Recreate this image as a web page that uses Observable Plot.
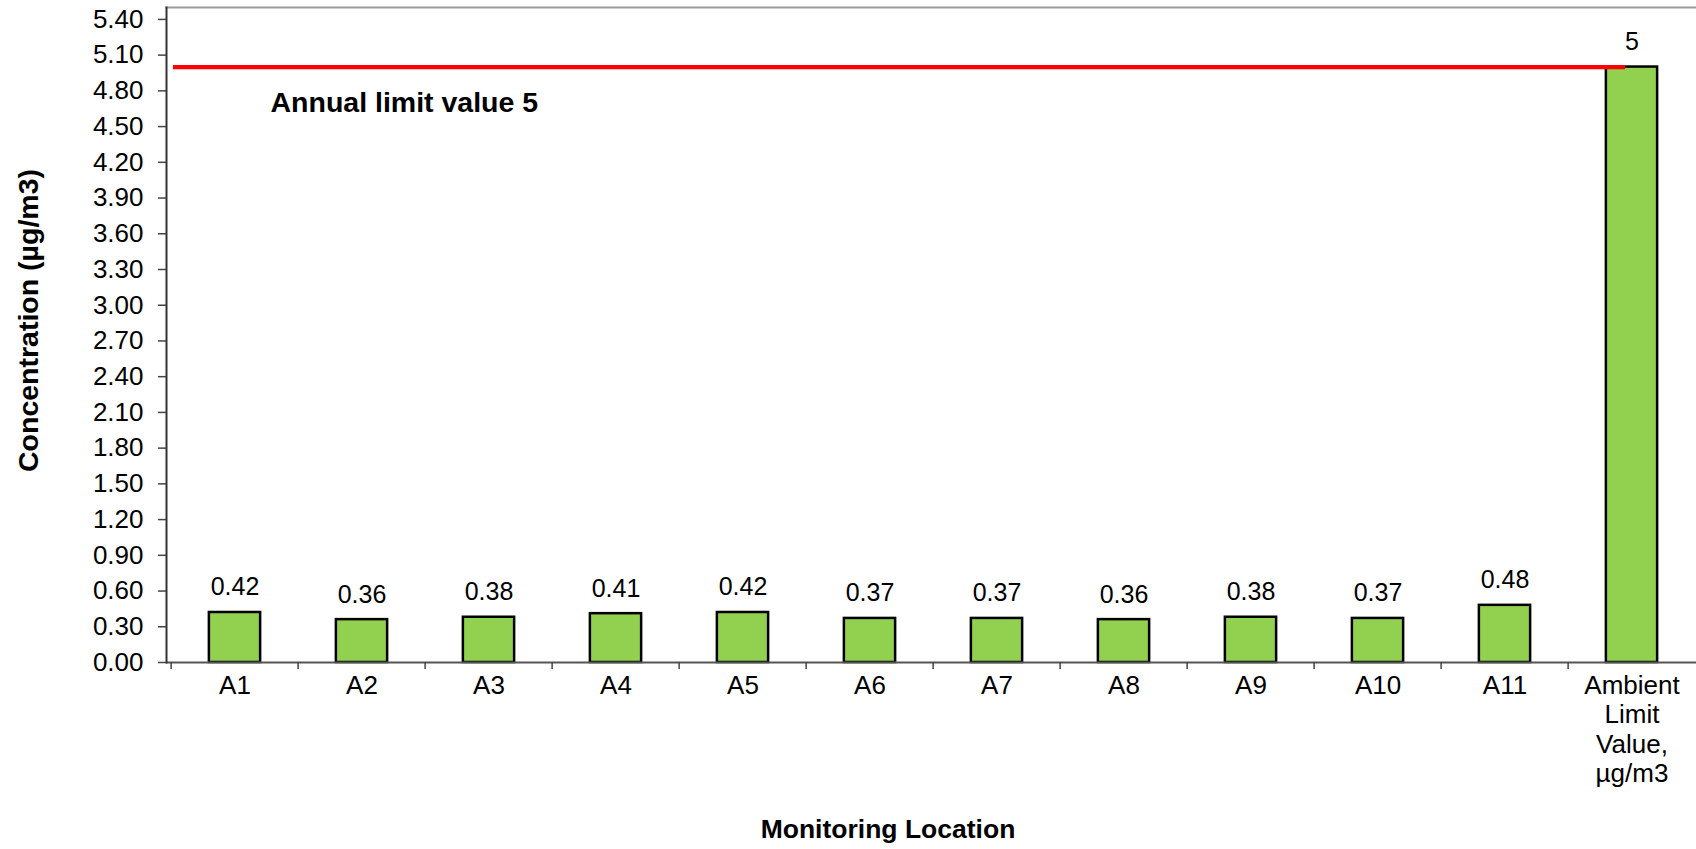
<!DOCTYPE html>
<html>
<head>
<meta charset="utf-8">
<script src="https://cdn.jsdelivr.net/npm/d3@7"></script>
<script src="https://cdn.jsdelivr.net/npm/@observablehq/plot@0.6"></script>
<style>
  html, body { margin: 0; padding: 0; background: #fff; }
  svg { display: block; }
</style>
</head>
<body>
<div id="chart"></div>
<script>
const locations = ["A1", "A2", "A3", "A4", "A5", "A6", "A7", "A8", "A9", "A10", "A11", "Ambient Limit Value, µg/m3"];
const tickLabels = ["A1", "A2", "A3", "A4", "A5", "A6", "A7", "A8", "A9", "A10", "A11", "Ambient\nLimit\nValue,\nµg/m3"];
const concentrations = [0.42, 0.36, 0.38, 0.41, 0.42, 0.37, 0.37, 0.36, 0.38, 0.37, 0.48, 5];
const valueLabels = ["0.42", "0.36", "0.38", "0.41", "0.42", "0.37", "0.37", "0.36", "0.38", "0.37", "0.48", "5"];
const yTicks = [0, 0.3, 0.6, 0.9, 1.2, 1.5, 1.8, 2.1, 2.4, 2.7, 3.0, 3.3, 3.6, 3.9, 4.2, 4.5, 4.8, 5.1, 5.4];
const yMax = 5.5;
const limitValue = 5;
const limitText = "Annual limit value 5";
const xTitle = "Monitoring Location";
const yTitle = "Concentration (µg/m3)";

const data = locations.map((loc, i) => ({loc, value: concentrations[i], label: valueLabels[i]}));

const W = 1696, H = 849;
const mL = 166, mR = -3, mT = 7, mB = 187;
const band = (W - mL - mR) / locations.length;
const barInset = (band - 52) / 2;
const font = "'Liberation Sans', Arial, Helvetica, sans-serif";

const chart = Plot.plot({
  width: W,
  height: H,
  marginLeft: mL,
  marginRight: mR,
  marginTop: mT,
  marginBottom: mB,
  style: {fontFamily: font, fontSize: "26px", color: "#000", background: "#fff", overflow: "visible"},
  x: {type: "band", domain: locations, padding: 0},
  y: {domain: [0, yMax]},
  marks: [
    Plot.frame({anchor: "top", stroke: "#999", strokeWidth: 2}),
    Plot.barY(data, {x: "loc", y: "value", fill: "#92D050", stroke: "#000", strokeWidth: 2.5, insetLeft: barInset, insetRight: barInset}),
    Plot.ruleY([limitValue], {stroke: "#FF0000", strokeWidth: 4.2, insetLeft: 7, insetRight: 71 - mR}),
    Plot.ruleY([0], {stroke: "#555", strokeWidth: 2}),
    Plot.frame({anchor: "left", stroke: "#333", strokeWidth: 2}),
    Plot.axisY({ticks: yTicks, tickFormat: d => d.toFixed(2), tickSize: 8, tickPadding: 15, fontSize: 26, stroke: "#444", strokeWidth: 1.5, label: null}),
    Plot.axisX({tickSize: 0, tickPadding: 10, tickFormat: d => tickLabels[locations.indexOf(d)], lineHeight: 1.14, fontSize: 26, label: null}),
    Plot.axisX({tickSize: 7, fill: "none", dx: -band / 2, stroke: "#444", strokeWidth: 1.5, label: null}),
    Plot.text(data, {x: "loc", y: "value", text: "label", dy: -17, lineAnchor: "bottom", fontSize: 25}),
    Plot.text([limitText], {y: () => limitValue, frameAnchor: "left", textAnchor: "start", lineAnchor: "bottom", dx: 104, dy: 45, fontSize: 28.5, fontWeight: "bold"}),
    Plot.text([xTitle], {frameAnchor: "bottom", textAnchor: "middle", lineAnchor: "bottom", dx: -45, dy: 175, fontSize: 26.5, fontWeight: "bold"}),
    Plot.text([yTitle], {frameAnchor: "left", textAnchor: "middle", rotate: -90, lineAnchor: "bottom", dx: -129, dy: -14.5, fontSize: 28.5, fontWeight: "bold"})
  ]
});
document.getElementById("chart").appendChild(chart);
</script>
</body>
</html>
